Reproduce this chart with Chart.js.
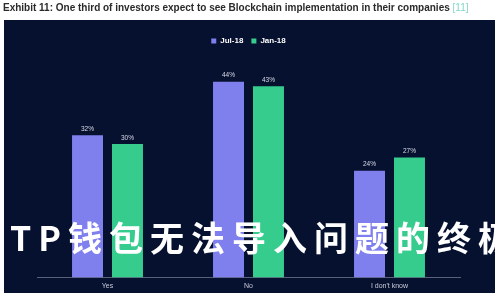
<!DOCTYPE html>
<html>
<head>
<meta charset="utf-8">
<script src="https://cdn.jsdelivr.net/npm/chart.js@4"></script>
<style>
  html, body { margin: 0; padding: 0; background: #fff; }
  #wrap { position: relative; width: 500px; height: 300px; overflow: hidden; }
  #title { position: absolute; left: 3px; top: 2px; font: bold 10px "Liberation Sans", Arial, sans-serif; color: #2a2a2a; white-space: nowrap; }
  #title span { color: #7fd6c8; font-weight: normal; }
  #overlay { position: absolute; left: 10px; top: 212px; font: bold 34px "Noto Sans CJK SC", sans-serif; color: #fff; letter-spacing: 7px; white-space: nowrap; }
</style>
</head>
<body>
<div id="wrap">
  <canvas id="myChart" width="500" height="300"></canvas>
  <div id="title">Exhibit 11: One third of investors expect to see Blockchain implementation in their companies <span>[11]</span></div>
  <div id="overlay">TP钱包无法导入问题的终极</div>
</div>
<script>
const categories = ['Yes', 'No', "I don't know"];
const jul18 = [32, 44, 24];
const jan18 = [30, 43, 27];

// dark panel behind the chart
const panelBg = {
  id: 'panelBg',
  beforeDraw(chart) {
    const ctx = chart.ctx;
    ctx.save();
    ctx.fillStyle = '#06102f';
    ctx.fillRect(4, 20, 491, 273);
    ctx.restore();
  }
};

// percent labels above each bar
const barLabels = {
  id: 'barLabels',
  afterDatasetsDraw(chart) {
    const ctx = chart.ctx;
    ctx.save();
    ctx.font = '6.5px "Liberation Sans", Arial, sans-serif';
    ctx.fillStyle = '#d8dce8';
    ctx.textAlign = 'center';
    ctx.textBaseline = 'bottom';
    chart.data.datasets.forEach((ds, i) => {
      chart.getDatasetMeta(i).data.forEach((bar, j) => {
        ctx.fillText(ds.data[j] + '%', bar.x, bar.y - 3);
      });
    });
    ctx.restore();
  }
};

const ctx = document.getElementById('myChart').getContext('2d');
new Chart(ctx, {
  type: 'bar',
  data: {
    labels: categories,
    datasets: [
      { label: 'Jul-18', data: jul18, backgroundColor: '#7f7fee', categoryPercentage: 0.567, barPercentage: 0.775 },
      { label: 'Jan-18', data: jan18, backgroundColor: '#35cc8e', categoryPercentage: 0.567, barPercentage: 0.775 }
    ]
  },
  options: {
    responsive: false,
    animation: false,
    layout: { padding: { top: 29, left: 37, right: 40, bottom: 6 } },
    plugins: {
      legend: {
        labels: {
          color: '#ffffff',
          boxWidth: 5,
          boxHeight: 5,
          padding: 8,
          font: { size: 8, weight: 'bold', family: '"Liberation Sans", Arial, sans-serif' }
        }
      },
      tooltip: { enabled: false }
    },
    scales: {
      x: {
        grid: { display: false, drawTicks: false, tickLength: 0 },
        border: { display: true, color: '#59607a' },
        ticks: { color: '#c8ccd8', padding: 4, font: { size: 7, family: '"Liberation Sans", Arial, sans-serif' } }
      },
      y: {
        display: false,
        min: 0,
        max: 50
      }
    }
  },
  plugins: [panelBg, barLabels]
});
</script>
</body>
</html>
